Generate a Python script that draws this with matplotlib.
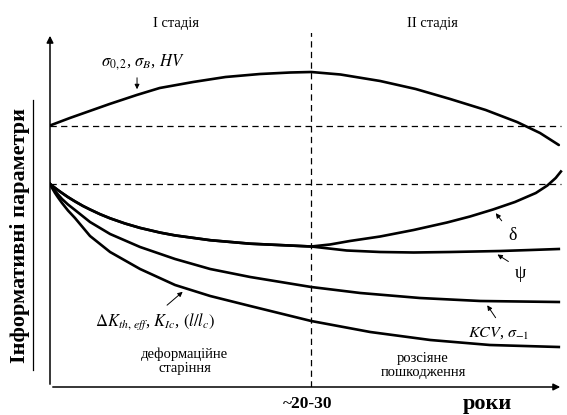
import numpy as np
import matplotlib
matplotlib.use("Agg")
import matplotlib.pyplot as plt
from matplotlib.lines import Line2D

plt.rcParams['font.family'] = ['Liberation Serif', 'DejaVu Serif']
plt.rcParams['mathtext.fontset'] = 'stix'

upper_level = 26.1      # starting level of strength / hardness
lower_level = 20.3      # starting level of ductility / toughness
stage_split = 25.0      # ~20-30 years

years_sigma = [0, 1.9, 3.8, 5.7, 8.3, 10.5, 13.7, 16.8, 20.1, 23.0, 25.0,
               27.8, 31.6, 35.0, 38.3, 41.7, 44.7, 46.9, 48.7]
sigma = [26.15, 26.9, 27.6, 28.3, 29.2, 29.9, 30.5, 31.0, 31.3, 31.45, 31.5,
         31.25, 30.6, 29.8, 28.8, 27.7, 26.5, 25.4, 24.2]

# common part of delta and psi in stage I
years_dp1 = [0, 0.19, 0.48, 0.77, 1.15, 1.72, 2.39, 3.16, 3.83, 4.79, 5.75,
             7.18, 8.62, 10.54, 11.97, 15.33, 19.16, 25.0]
dp1 = [20.3, 20.14, 19.91, 19.68, 19.4, 18.99, 18.56, 18.1, 17.75, 17.28, 16.87,
       16.35, 15.91, 15.44, 15.16, 14.68, 14.33, 14.05]

years_delta2 = [26.8, 28.7, 31.6, 34.8, 38.0, 40.2, 42.4, 44.5, 46.5, 47.6, 48.4, 48.9]
delta2 = [14.25, 14.6, 15.05, 15.7, 16.45, 17.05, 17.75, 18.5, 19.4, 20.15, 20.9, 21.55]

years_psi2 = [28.4, 31.6, 34.8, 38.3, 43.1, 46.0, 48.7]
psi2 = [13.65, 13.5, 13.45, 13.5, 13.6, 13.7, 13.8]

years_kcv = [0, 0.19, 0.48, 0.77, 1.15, 1.72, 2.39, 3.83, 5.75, 8.62, 11.97,
             15.33, 19.16, 25.0, 29.7, 35.4, 41.2, 48.7]
kcv = [20.3, 20.0, 19.6, 19.25, 18.8, 18.25, 17.7, 16.5, 15.3, 14.0, 12.8,
       11.8, 11.0, 10.0, 9.4, 8.9, 8.6, 8.5]

years_dk = [0, 0.19, 0.48, 0.77, 1.15, 1.72, 2.39, 3.83, 5.75, 8.62, 11.97,
            15.33, 19.16, 25.0, 30.65, 36.4, 42.1, 48.7]
dk = [20.3, 19.92, 19.4, 18.95, 18.4, 17.65, 16.9, 15.1, 13.5, 11.8, 10.2,
      9.1, 8.1, 6.6, 5.5, 4.7, 4.2, 4.0]

fig = plt.figure(figsize=(5.67, 4.15), dpi=100)
ax = fig.add_axes([50/567, 28/415, 513/567, 354/415])
ax.set_xlim(0, 49.1)
ax.set_ylim(0, 35.4)
ax.axis('off')

lw = 1.9
ax.plot(years_sigma, sigma, color='black', lw=lw, solid_capstyle='round')
ax.plot(years_dp1 + years_delta2, dp1 + delta2, color='black', lw=lw)
ax.plot(years_dp1 + years_psi2, dp1 + psi2, color='black', lw=lw)
ax.plot(years_kcv, kcv, color='black', lw=lw)
ax.plot(years_dk, dk, color='black', lw=lw)

# dashed guide lines
dash = (0, (5, 3.5))
ax.axhline(upper_level, xmax=0.997, color='black', lw=0.9, ls=dash)
ax.axhline(lower_level, xmax=0.997, color='black', lw=0.9, ls=dash)
ax.axvline(stage_split, ymin=0, ymax=1.005, color='black', lw=0.9, ls=dash)

# axes with arrows
ax.annotate('', xy=(0, 1), xytext=(0, 0), xycoords='axes fraction',
            arrowprops=dict(arrowstyle='-|>', lw=1.1, color='black', mutation_scale=10))
ax.annotate('', xy=(1, 0), xytext=(0, 0), xycoords='axes fraction',
            arrowprops=dict(arrowstyle='-|>', lw=1.1, color='black', mutation_scale=10))

# stage titles
ax.text(12.1, 36.3, 'I стадія', ha='center', va='center', fontsize=10.5, clip_on=False)
ax.text(36.6, 36.3, 'II стадія', ha='center', va='center', fontsize=10.5, clip_on=False)

# curve labels
arr = dict(arrowstyle='-|>', lw=0.7, color='black', mutation_scale=7)
ax.text(8.9, 32.5, r'$\sigma_{0,2}$, $\sigma_{B}$, $HV$', ha='center', va='center', fontsize=12)
ax.annotate('', xy=(8.33, 29.5), xytext=(8.33, 31.2), arrowprops=arr)

ax.text(44.3, 15.2, 'δ', ha='center', va='center', fontsize=13)
ax.annotate('', xy=(42.5, 17.6), xytext=(43.4, 16.4), arrowprops=arr)

ax.text(45.0, 11.4, 'ψ', ha='center', va='center', fontsize=13)
ax.annotate('', xy=(42.6, 13.4), xytext=(44.1, 12.4), arrowprops=arr)

ax.text(42.9, 5.4, r'$KCV$, $\sigma_{-1}$', ha='center', va='center', fontsize=11.5)
ax.annotate('', xy=(41.7, 8.4), xytext=(42.8, 6.7), arrowprops=arr)

ax.text(10.1, 6.5, r'$\Delta K_{th,\,eff}$, $K_{Ic}$, $(l/l_c)$', ha='center', va='center', fontsize=12)
ax.annotate('', xy=(12.9, 9.7), xytext=(11.0, 8.0), arrowprops=arr)

# mechanism captions
ax.text(12.9, 2.6, 'деформаційне\nстаріння', ha='center', va='center', fontsize=10.5,
        linespacing=1.1)
ax.text(35.7, 2.2, 'розсіяне\nпошкодження', ha='center', va='center', fontsize=10.5,
        linespacing=1.1)

# x axis captions
ax.text(24.7, -1.7, '~20-30', ha='center', va='center', fontsize=12.5,
        fontweight='bold', clip_on=False)
ax.text(41.9, -1.7, 'роки', ha='center', va='center', fontsize=16,
        fontweight='bold', clip_on=False)

# y label (underlined)
fig.text(20/567, 1 - 235/415, 'Інформативні параметри', rotation=90,
         ha='center', va='center', fontsize=16, fontweight='bold')
fig.add_artist(Line2D([33/567, 33/567], [1 - 370/415, 1 - 100/415],
                      transform=fig.transFigure, color='black', lw=0.9))

fig.savefig('out.png', dpi=100)
